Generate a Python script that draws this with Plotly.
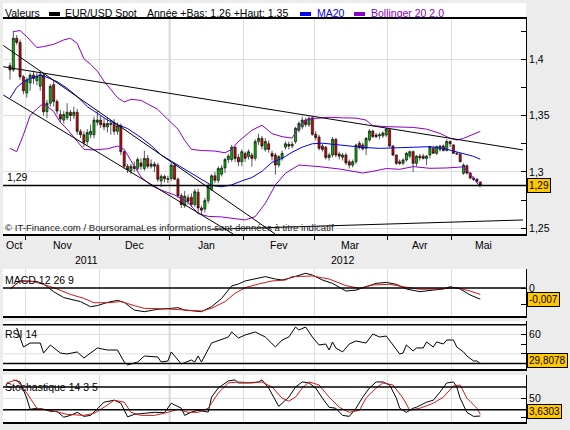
import plotly.graph_objects as go

W, H = 570, 430

# daily EUR/USD candles, oldest first
opens = [1.3944, 1.3905, 1.4187, 1.4150, 1.3846, 1.3700, 1.3790, 1.3860, 1.3810, 1.3760,
         1.3860, 1.3535, 1.3610, 1.3775, 1.3625, 1.3510, 1.3460, 1.3480, 1.3530, 1.3500,
         1.3530, 1.3360, 1.3330, 1.3270, 1.3330, 1.3330, 1.3440, 1.3460, 1.3430, 1.3400,
         1.3420, 1.3430, 1.3360, 1.3410, 1.3180, 1.3050, 1.3010, 1.3050, 1.3030, 1.3080,
         1.3030, 1.3120, 1.3050, 1.3070, 1.3060, 1.2920, 1.2960, 1.2940, 1.2942, 1.3060,
         1.2935, 1.2790, 1.2700, 1.2770, 1.2775, 1.2710, 1.2820, 1.2680, 1.2670, 1.2745,
         1.2845, 1.2965, 1.2925, 1.2980, 1.3035, 1.3110, 1.3110, 1.3220, 1.3130, 1.3090,
         1.3165, 1.3136, 1.3150, 1.3121, 1.3269, 1.3298, 1.3200, 1.3250, 1.3165, 1.3150,
         1.3061, 1.3120, 1.3220, 1.3245, 1.3230, 1.3269, 1.3370, 1.3400, 1.3460, 1.3420,
         1.3480, 1.3334, 1.3310, 1.3230, 1.3220, 1.3127, 1.3150, 1.3290, 1.3160, 1.3130,
         1.3150, 1.3090, 1.3060, 1.3090, 1.3254, 1.3240, 1.3209, 1.3283, 1.3363, 1.3328,
         1.3320, 1.3320, 1.3328, 1.3375, 1.3230, 1.3150, 1.3090, 1.3076, 1.3106, 1.3140,
         1.3180, 1.3076, 1.3140, 1.3140, 1.3120, 1.3150, 1.3210, 1.3165, 1.3200, 1.3230,
         1.3190, 1.3270, 1.3240, 1.3165, 1.3160, 1.2988, 1.3055, 1.2990, 1.2945, 1.2935,
         1.2910]
highs = [1.3970, 1.4250, 1.4215, 1.4175, 1.3860, 1.3840, 1.3880, 1.3890, 1.3880, 1.3890,
         1.3880, 1.3640, 1.3780, 1.3810, 1.3645, 1.3550, 1.3540, 1.3610, 1.3550, 1.3580,
         1.3560, 1.3380, 1.3360, 1.3380, 1.3420, 1.3490, 1.3540, 1.3500, 1.3480, 1.3480,
         1.3460, 1.3470, 1.3440, 1.3430, 1.3190, 1.3070, 1.3070, 1.3090, 1.3130, 1.3120,
         1.3190, 1.3150, 1.3110, 1.3090, 1.3080, 1.2980, 1.2975, 1.2965, 1.3080, 1.3080,
         1.2950, 1.2810, 1.2830, 1.2800, 1.2810, 1.2850, 1.2850, 1.2700, 1.2770, 1.2890,
         1.2980, 1.3000, 1.3050, 1.3060, 1.3125, 1.3160, 1.3240, 1.3225, 1.3160, 1.3200,
         1.3180, 1.3200, 1.3170, 1.3290, 1.3340, 1.3320, 1.3300, 1.3280, 1.3190, 1.3170,
         1.3150, 1.3190, 1.3270, 1.3270, 1.3270, 1.3400, 1.3450, 1.3490, 1.3480, 1.3490,
         1.3490, 1.3360, 1.3330, 1.3250, 1.3230, 1.3170, 1.3310, 1.3300, 1.3180, 1.3170,
         1.3170, 1.3110, 1.3110, 1.3250, 1.3275, 1.3260, 1.3310, 1.3380, 1.3375, 1.3345,
         1.3350, 1.3360, 1.3390, 1.3385, 1.3240, 1.3155, 1.3110, 1.3120, 1.3180, 1.3190,
         1.3190, 1.3150, 1.3160, 1.3160, 1.3150, 1.3230, 1.3230, 1.3235, 1.3240, 1.3245,
         1.3290, 1.3280, 1.3245, 1.3175, 1.3165, 1.3075, 1.3065, 1.3000, 1.2960, 1.2945,
         1.2915]
lows = [1.3820, 1.3890, 1.4130, 1.3820, 1.3690, 1.3660, 1.3720, 1.3780, 1.3770, 1.3720,
        1.3500, 1.3480, 1.3580, 1.3580, 1.3510, 1.3440, 1.3430, 1.3460, 1.3450, 1.3470,
        1.3330, 1.3300, 1.3220, 1.3240, 1.3300, 1.3300, 1.3410, 1.3390, 1.3370, 1.3350,
        1.3330, 1.3330, 1.3330, 1.3150, 1.3030, 1.2990, 1.2980, 1.3000, 1.3010, 1.3020,
        1.3010, 1.3030, 1.3030, 1.3000, 1.2910, 1.2865, 1.2905, 1.2900, 1.2920, 1.2930,
        1.2770, 1.2680, 1.2680, 1.2710, 1.2690, 1.2690, 1.2625, 1.2625, 1.2640, 1.2720,
        1.2830, 1.2900, 1.2900, 1.2960, 1.2990, 1.3080, 1.3090, 1.3090, 1.3050, 1.3050,
        1.3090, 1.3110, 1.3047, 1.3100, 1.3240, 1.3200, 1.3180, 1.3170, 1.3100, 1.2975,
        1.3040, 1.3100, 1.3200, 1.3200, 1.3210, 1.3250, 1.3350, 1.3380, 1.3400, 1.3400,
        1.3320, 1.3280, 1.3190, 1.3180, 1.3110, 1.3100, 1.3130, 1.3130, 1.3110, 1.3100,
        1.3060, 1.3030, 1.3040, 1.3070, 1.3200, 1.3190, 1.3150, 1.3270, 1.3300, 1.3300,
        1.3290, 1.3300, 1.3310, 1.3220, 1.3140, 1.3060, 1.3060, 1.3060, 1.3090, 1.3120,
        1.3000, 1.3050, 1.3100, 1.3110, 1.3060, 1.3120, 1.3160, 1.3150, 1.3180, 1.3180,
        1.3180, 1.3220, 1.3160, 1.3150, 1.3085, 1.2975, 1.2975, 1.2935, 1.2920, 1.2900,
        1.2872]
closes = [1.3905, 1.4187, 1.4150, 1.3846, 1.3720, 1.3817, 1.3860, 1.3830, 1.3850, 1.3865,
          1.3535, 1.3610, 1.3760, 1.3625, 1.3540, 1.3470, 1.3510, 1.3530, 1.3500, 1.3530,
          1.3360, 1.3330, 1.3260, 1.3350, 1.3360, 1.3460, 1.3460, 1.3420, 1.3400, 1.3430,
          1.3430, 1.3360, 1.3410, 1.3180, 1.3050, 1.3020, 1.3050, 1.3030, 1.3110, 1.3050,
          1.3120, 1.3050, 1.3070, 1.3050, 1.2935, 1.2960, 1.2940, 1.2935, 1.3060, 1.2935,
          1.2790, 1.2710, 1.2785, 1.2740, 1.2710, 1.2825, 1.2680, 1.2660, 1.2745, 1.2870,
          1.2965, 1.2925, 1.3030, 1.3035, 1.3110, 1.3140, 1.3220, 1.3120, 1.3090, 1.3180,
          1.3121, 1.3180, 1.3120, 1.3269, 1.3298, 1.3230, 1.3270, 1.3200, 1.3140, 1.3061,
          1.3135, 1.3165, 1.3250, 1.3230, 1.3245, 1.3387, 1.3430, 1.3460, 1.3420, 1.3475,
          1.3334, 1.3305, 1.3209, 1.3200, 1.3127, 1.3150, 1.3290, 1.3150, 1.3140, 1.3150,
          1.3080, 1.3060, 1.3090, 1.3239, 1.3215, 1.3205, 1.3298, 1.3363, 1.3313, 1.3313,
          1.3330, 1.3345, 1.3381, 1.3230, 1.3150, 1.3076, 1.3075, 1.3106, 1.3165, 1.3180,
          1.3076, 1.3140, 1.3125, 1.3120, 1.3140, 1.3224, 1.3165, 1.3224, 1.3230, 1.3190,
          1.3270, 1.3250, 1.3165, 1.3160, 1.3091, 1.3061, 1.2990, 1.2945, 1.2935, 1.2915,
          1.2879]
days = list(range(len(closes)))

# overlays, sampled at the listed day positions
ma20_day = [0, 2, 4, 6, 9, 11, 14, 17, 20, 23, 26, 29, 32, 35, 39, 42, 45, 48, 51, 54, 57, 60,
            63, 66, 69, 72, 75, 78, 81, 84, 87, 90, 93, 96, 100, 105, 110, 115, 120, 125, 129,
            132, 135, 138, 140]
ma20 = [1.3654, 1.3750, 1.3800, 1.3831, 1.3858, 1.3840, 1.3802, 1.3743, 1.3669, 1.3580, 1.3521,
        1.3461, 1.3420, 1.3385, 1.3305, 1.3235, 1.3150, 1.3095, 1.3040, 1.2985, 1.2930, 1.2880,
        1.2868, 1.2885, 1.2920, 1.2950, 1.3005, 1.3085, 1.3120, 1.3175, 1.3220, 1.3250, 1.3255,
        1.3245, 1.3238, 1.3218, 1.3209, 1.3215, 1.3224, 1.3224, 1.3209, 1.3185, 1.3165, 1.3138,
        1.3112]
bb_up_day = [1, 3, 5, 8, 10, 13, 16, 18, 20, 22, 24, 26, 28, 30, 32, 34, 36, 39, 41, 44, 47, 50,
             52, 54, 57, 61, 64, 66, 68, 70, 72, 75, 78, 81, 84, 86, 88, 91, 95, 99, 103, 106,
             108, 112, 117, 120, 124, 128, 131, 133, 135, 138, 140]
bb_up = [1.4246, 1.4255, 1.4201, 1.4104, 1.4113, 1.4133, 1.4172, 1.4187, 1.4142, 1.4005, 1.3955,
         1.3895, 1.3805, 1.3730, 1.3660, 1.3620, 1.3645, 1.3635, 1.3605, 1.3555, 1.3465, 1.3380,
         1.3280, 1.3200, 1.3190, 1.3185, 1.3170, 1.3200, 1.3270, 1.3320, 1.3370, 1.3415, 1.3340,
         1.3313, 1.3300, 1.3400, 1.3460, 1.3475, 1.3485, 1.3480, 1.3478, 1.3460, 1.3410, 1.3402,
         1.3400, 1.3395, 1.3380, 1.3342, 1.3298, 1.3283, 1.3298, 1.3333, 1.3360]
bb_lo_day = [0, 2, 4, 6, 8, 10, 13, 15, 17, 20, 22, 25, 29, 32, 34, 36, 39, 42, 45, 49, 53, 56,
             59, 63, 67, 70, 73, 76, 79, 82, 86, 92, 98, 101, 105, 108, 112, 116, 120, 125, 130,
             135, 138, 140]
bb_lo = [1.3209, 1.3180, 1.3330, 1.3500, 1.3560, 1.3610, 1.3535, 1.3440, 1.3380, 1.3270, 1.3200,
         1.3195, 1.3205, 1.3230, 1.3200, 1.3100, 1.2955, 1.2880, 1.2838, 1.2795, 1.2730, 1.2630,
         1.2605, 1.2600, 1.2588, 1.2573, 1.2603, 1.2721, 1.2884, 1.2988, 1.3061, 1.3047, 1.3026,
         1.3008, 1.2990, 1.3005, 1.3030, 1.3023, 1.3047, 1.3032, 1.3035, 1.3045, 1.2945, 1.2864]

# hand-drawn trend lines: (day, price) at each end
trend_day = [[-2, 152.7], [-2, 78.9], [-2, 66.4], [60, 152.7]]
trend_px = [[1.3934, 1.3195], [1.4123, 1.2449], [1.3683, 1.2449], [1.2490, 1.2573]]

macd_day = [0, 2, 3, 5, 8, 10, 13, 16, 18, 21, 24, 26, 29, 32, 34, 37, 40, 44, 48, 50, 52, 55,
            57, 60, 63, 66, 68, 70, 73, 76, 79, 81, 83, 86, 88, 90, 93, 96, 100, 103, 106, 109,
            112, 115, 118, 122, 126, 129, 131, 134, 137, 140]
macd = [-0.0006, 0.0029, 0.0044, 0.0044, 0.0040, 0.0025, -0.0023, -0.0060, -0.0071, -0.0085,
        -0.0117, -0.0110, -0.0090, -0.0077, -0.0090, -0.0138, -0.0148, -0.0133, -0.0127, -0.0123,
        -0.0138, -0.0144, -0.0148, -0.0117, -0.0065, 0.0013, 0.0025, 0.0044, 0.0056, 0.0071,
        0.0056, 0.0050, 0.0060, 0.0081, 0.0092, 0.0081, 0.0050, 0.0029, -0.0019, -0.0013, 0.0008,
        0.0029, 0.0035, 0.0023, -0.0006, -0.0023, -0.0013, -0.0006, 0.0008, -0.0006, -0.0044,
        -0.0070]
signal_day = [0, 3, 7, 10, 14, 18, 22, 25, 29, 33, 37, 40, 47, 53, 57, 60, 64, 67, 70, 74, 78,
              82, 84, 90, 95, 100, 104, 108, 113, 117, 122, 128, 133, 137, 140]
signal = [-0.0006, 0.0044, 0.0040, 0.0023, -0.0006, -0.0040, -0.0065, -0.0092, -0.0092, -0.0085,
          -0.0110, -0.0127, -0.0131, -0.0138, -0.0144, -0.0127, -0.0085, -0.0033, 0.0002, 0.0025,
          0.0044, 0.0050, 0.0071, 0.0075, 0.0056, 0.0015, -0.0002, 0.0019, 0.0023, 0.0008,
          -0.0008, -0.0006, 0.0002, -0.0019, -0.0040]

rsi_day = [2, 4, 6, 9, 10, 12, 15, 17, 20, 22, 26, 29, 32, 34, 35, 38, 40, 44, 45, 47, 48, 51,
           54, 55, 56, 57, 60, 65, 66, 68, 70, 73, 76, 79, 81, 83, 85, 86, 88, 90, 92, 94, 95,
           96, 97, 99, 101, 103, 106, 108, 110, 112, 114, 116, 117, 118, 120, 121, 123, 124,
           126, 127, 129, 130, 132, 133, 135, 136, 138, 139, 140]
rsi = [66.6, 47.0, 51.1, 51.1, 40.8, 49.1, 40.8, 39.8, 41.9, 35.7, 46.0, 43.9, 43.9, 31.5, 28.5,
       31.5, 37.7, 36.7, 31.5, 32.6, 41.9, 29.5, 33.6, 31.5, 37.7, 31.5, 51.1, 57.3, 62.5, 56.3,
       59.4, 62.5, 57.3, 47.0, 54.2, 57.3, 67.6, 64.5, 67.6, 57.3, 49.1, 50.1, 43.9, 52.2, 46.0,
       41.9, 50.1, 53.2, 51.1, 60.4, 57.3, 58.3, 49.1, 39.8, 40.8, 49.1, 42.9, 46.0, 46.0, 52.2,
       47.0, 52.2, 50.1, 54.2, 54.2, 47.0, 41.9, 37.7, 32.6, 32.6, 29.8078]

stoch_k_day = [1, 3, 5, 6, 8, 10, 12, 14, 16, 18, 20, 22, 24, 26, 28, 31, 33, 35, 37, 40, 43,
               46, 48, 51, 52, 54, 56, 59, 60, 62, 65, 67, 68, 71, 74, 75, 77, 80, 81, 83, 85,
               87, 89, 91, 93, 95, 97, 99, 101, 103, 105, 107, 109, 111, 113, 115, 116, 118,
               120, 121, 124, 126, 128, 130, 132, 133, 134, 136, 138, 140]
stoch_k = [98.7, 93.3, 50.7, 21.3, 24.0, 21.3, 16.0, 16.0, 0.5, 5.3, 13.3, 2.7, 5.3, 24.0, 40.0,
           45.3, 37.3, 1.5, 8.0, 10.7, 13.3, 12.5, 37.3, 24.0, 5.3, 14.0, 18.7, 14.0, 53.3, 77.3,
           96.0, 98.7, 90.7, 90.7, 93.3, 98.7, 77.3, 29.0, 37.3, 53.3, 80.0, 93.3, 90.7, 77.3,
           50.7, 26.7, 24.0, 5.3, 2.7, 24.0, 53.3, 77.3, 93.3, 93.3, 85.3, 50.7, 24.0, 13.3, 24.0,
           26.7, 40.0, 45.3, 66.7, 90.7, 93.3, 80.0, 50.7, 13.3, 2.7, 3.6303]
stoch_d_day = [-1, 2, 5, 8, 12, 17, 22, 25, 28, 31, 34, 36, 39, 43, 47, 50, 53, 56, 59, 62, 65,
               68, 72, 75, 78, 81, 83, 85, 87, 89, 92, 95, 98, 101, 104, 106, 109, 111, 114, 117,
               119, 122, 126, 129, 132, 134, 136, 139, 140]
stoch_d = [90.7, 98.7, 64.0, 24.0, 18.7, 8.0, 5.3, 10.7, 26.7, 45.3, 40.0, 13.3, 5.3, 5.3, 13.3,
           21.3, 13.3, 13.3, 24.0, 64.0, 90.7, 93.3, 90.7, 93.3, 80.0, 50.7, 42.7, 53.3, 77.3,
           93.3, 85.3, 53.3, 26.7, 13.3, 18.7, 50.7, 77.3, 90.7, 85.3, 50.7, 18.7, 24.0, 37.3,
           53.3, 82.7, 85.3, 50.7, 24.0, 8.0]

month_names = ["Oct", "Nov", "Dec", "Jan", "Fev", "Mar", "Avr", "Mai"]
month_days = [5, 22, 21, 22, 21, 22, 19, 19]
years = ["2011", "2012"]

# ---------------------------------------------------------------------------
FONT = "Liberation Sans, Arial, sans-serif"
GRID = "#dedede"
PURPLE = "#8c00c8"
BLUE = "#0000ee"
RED = "#d01818"
X_RANGE = [-2.08, 153.6]


def py(p):
    return 1 - p / H


def px(p):
    return p / W


X_DOM = [px(3), px(526)]

bounds = []
acc = 0
for d in month_days[:-1]:
    acc += d
    bounds.append(acc - 0.5)
edges = [X_RANGE[0]] + bounds + [bounds[-1] + month_days[-1]]
month_mid = [(edges[i] + edges[i + 1]) / 2 for i in range(len(month_names))]
year_cut = bounds[2]
year_mid = [(X_RANGE[0] + year_cut) / 2, (year_cut + X_RANGE[1]) / 2 - 1.5]

fig = go.Figure()

fig.add_trace(go.Candlestick(
    x=days, open=opens, high=highs, low=lows, close=closes,
    increasing=dict(fillcolor="#00b800", line=dict(color="#111", width=0.7)),
    decreasing=dict(fillcolor="#d40000", line=dict(color="#111", width=0.7)),
    whiskerwidth=0, showlegend=False, hoverinfo="skip"))
fig.add_trace(go.Scatter(x=ma20_day, y=ma20, mode="lines", line=dict(color=BLUE, width=1)))
fig.add_trace(go.Scatter(x=bb_up_day, y=bb_up, mode="lines", line=dict(color=PURPLE, width=1)))
fig.add_trace(go.Scatter(x=bb_lo_day, y=bb_lo, mode="lines", line=dict(color=PURPLE, width=1)))
for tx, ty in zip(trend_day, trend_px):
    fig.add_trace(go.Scatter(x=tx, y=ty, mode="lines", line=dict(color="black", width=1)))

fig.add_trace(go.Scatter(x=macd_day, y=macd, mode="lines", line=dict(color="black", width=1),
                         xaxis="x2", yaxis="y2"))
fig.add_trace(go.Scatter(x=signal_day, y=signal, mode="lines", line=dict(color=RED, width=1),
                         xaxis="x2", yaxis="y2"))
fig.add_trace(go.Scatter(x=rsi_day, y=rsi, mode="lines", line=dict(color="black", width=1),
                         xaxis="x3", yaxis="y3"))
fig.add_trace(go.Scatter(x=stoch_k_day, y=stoch_k, mode="lines", line=dict(color="black", width=1),
                         xaxis="x4", yaxis="y4"))
fig.add_trace(go.Scatter(x=stoch_d_day, y=stoch_d, mode="lines", line=dict(color=RED, width=1),
                         xaxis="x4", yaxis="y4"))

xcommon = dict(range=X_RANGE, domain=X_DOM, tickvals=bounds, ticktext=[""] * len(bounds),
               showgrid=True, gridcolor=GRID, gridwidth=1, zeroline=False, fixedrange=True)
ycommon = dict(side="right", showline=True, linecolor="black", linewidth=1, ticks="inside",
               ticklen=5, tickcolor="black", zeroline=False, fixedrange=True,
               tickfont=dict(size=10.5, color="black"))

fig.update_layout(
    width=W, height=H, margin=dict(l=0, r=0, t=0, b=0),
    paper_bgcolor="#ececec", plot_bgcolor="white",
    font=dict(family=FONT, size=10.5, color="black"),
    separators=", ", showlegend=False, hovermode=False, boxgap=0.12,
    xaxis=dict(**xcommon, anchor="y", showline=True, linecolor="black", linewidth=2, mirror=True,
               ticks="outside", ticklen=4, tickcolor="black", rangeslider=dict(visible=False)),
    yaxis=dict(**ycommon, anchor="x", domain=[py(234), py(19)], range=[1.24485, 1.43579],
               tick0=0, dtick=0.05, showgrid=True, gridcolor=GRID,
               minor=dict(dtick=0.025, ticks="inside", ticklen=5, tickcolor="black", showgrid=False)),
    xaxis2=dict(**xcommon, anchor="y2", showline=True, linecolor="black", linewidth=1.5, ticks=""),
    yaxis2=dict(**ycommon, anchor="x2", domain=[py(316), py(269)], range=[-0.0175, 0.011875],
                tickvals=[-0.01, 0], ticktext=["", "0"], showgrid=False),
    xaxis3=dict(**xcommon, anchor="y3", showline=True, linecolor="black", linewidth=1.5, ticks=""),
    yaxis3=dict(**ycommon, anchor="x3", domain=[py(369), py(321)], range=[24.33, 73.8],
                tickvals=[40, 50, 60], ticktext=["", "", "60"], showgrid=False),
    xaxis4=dict(**xcommon, anchor="y4", showline=True, linecolor="black", linewidth=1.5, ticks=""),
    yaxis4=dict(**ycommon, anchor="x4", domain=[py(422), py(375)], range=[-12.1, 111.6],
                tickvals=[0, 50], ticktext=["", "50"], showgrid=False),
)
for ax in ("xaxis2", "xaxis3", "xaxis4"):
    fig.layout[ax].showticklabels = False

shapes = []
# white strip behind the legend row
shapes.append(dict(type="rect", xref="paper", yref="paper", x0=px(3), x1=px(526),
                   y0=py(19), y1=py(3), fillcolor="white", line_width=0, layer="below"))
# darker year separator in every panel
for xa, ya in (("x", "y"), ("x2", "y2"), ("x3", "y3"), ("x4", "y4")):
    shapes.append(dict(type="line", xref=xa, yref=ya + " domain", x0=year_cut, x1=year_cut,
                       y0=0, y1=1, line=dict(color="#a4a4a4", width=1.5), layer="below"))
# light grid levels in the oscillator panels
for ya, lvl in (("y3", 40), ("y3", 60), ("y4", 50)):
    xa = "x" + ya[1:]
    shapes.append(dict(type="line", xref=xa + " domain", yref=ya, x0=0, x1=1, y0=lvl, y1=lvl,
                       line=dict(color=GRID, width=1), layer="below"))
# last price line
shapes.append(dict(type="line", xref="x domain", yref="y", x0=0, x1=1, y0=closes[-1], y1=closes[-1],
                   line=dict(color="black", width=1.5)))
# indicator reference levels
for ya, lvl in (("y2", 0), ("y3", 70), ("y3", 30), ("y4", 80), ("y4", 20)):
    xa = "x" + ya[1:]
    shapes.append(dict(type="line", xref=xa + " domain", yref=ya, x0=0, x1=1, y0=lvl, y1=lvl,
                       line=dict(color="black", width=1.5)))
# legend swatches
for x0, x1, col in ((49, 60, "black"), (300, 311, BLUE), (354, 365, PURPLE)):
    shapes.append(dict(type="rect", xref="paper", yref="paper", x0=px(x0), x1=px(x1),
                       y0=py(16), y1=py(12), fillcolor=col, line_width=0))
fig.update_layout(shapes=shapes)

ann = []


def text(x, y, s, color="black", size=10.5):
    ann.append(dict(x=px(x), y=py(y), xref="paper", yref="paper", text=s, showarrow=False,
                    xanchor="left", yanchor="middle", font=dict(color=color, size=size)))


text(3, 13.5, "Valeurs")
text(63, 13.5, "EUR/USD Spot")
text(145, 13.5, "Année +Bas: 1,26 +Haut: 1,35")
text(315, 13.5, "MA20", color=BLUE)
text(369, 13.5, "Bollinger 20 2.0", color=PURPLE)
text(3, 228, "© IT-Finance.com / BoursoramaLes informations sont données à titre indicatif",
     color="#222", size=9.6)
text(3, 279.5, "MACD 12 26 9")
text(3, 334, "RSI 14")
text(3, 387, "Stochastique 14 3 5")

ann.append(dict(x=X_RANGE[0], y=closes[-1], xref="x", yref="y", text="1,29", showarrow=False,
                xanchor="left", yanchor="bottom", xshift=2, yshift=1))
for name, pos in zip(month_names, month_mid):
    ann.append(dict(x=pos, y=py(245), xref="x", yref="paper", text=name, showarrow=False,
                    xanchor="center", yanchor="middle"))
for name, pos in zip(years, year_mid):
    ann.append(dict(x=pos, y=py(260), xref="x", yref="paper", text=name, showarrow=False,
                    xanchor="center", yanchor="middle"))

# current-value boxes on the right axis
for ya, val, s, shift in (("y", closes[-1], "1,29", 0), ("y2", macd[-1], "-0,007", 0),
                          ("y3", rsi[-1], "29,8078", 3), ("y4", stoch_k[-1], "3,6303", 5)):
    ann.append(dict(x=px(527), y=val, xref="paper", yref=ya, text=s, showarrow=False,
                    xanchor="left", yanchor="middle", yshift=shift, bgcolor="#ffc800",
                    bordercolor="black", borderwidth=1, borderpad=1,
                    font=dict(size=10, color="black")))
fig.update_layout(annotations=ann)

# the page is shown at exactly the figure size, so drop the default body margin
fig.write_html("out.html", config={"displayModeBar": False},
               post_script="document.body.style.margin = '0px';")
